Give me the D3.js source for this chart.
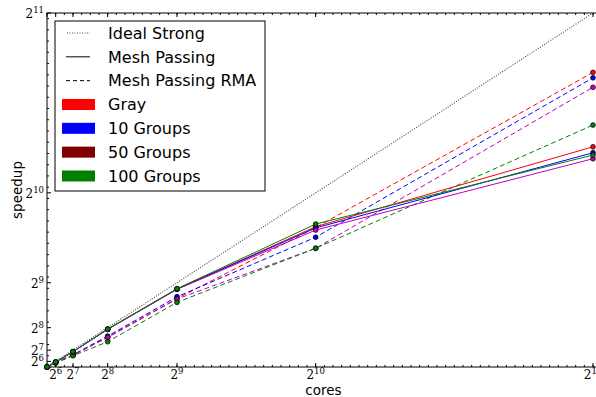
<!DOCTYPE html>
<html>
<head>
<meta charset="utf-8">
<script src="https://cdn.jsdelivr.net/npm/d3@7"></script>
<style>
  body { margin: 0; background: #fff; }
  svg { display: block; }
  .tl { font-family: "DejaVu Serif", "Liberation Serif", serif; font-size: 12px; }
  .lab { font-family: "DejaVu Sans", sans-serif; font-size: 13.5px; }
  .leg { font-family: "DejaVu Sans", sans-serif; font-size: 16px; }
</style>
</head>
<body>
<div id="chart"></div>
<script>
// cores (x) and speedup values
let cores = [32, 64, 128, 256, 512, 1024, 2048]
let ideal = [32, 64, 128, 256, 512, 1024, 2048]

let grayMesh = [32, 60, 119, 247, 476, 831, 1286]
let g10Mesh = [32, 60, 119, 247, 476, 824, 1252]
let g50Mesh = [32, 60, 119, 246, 474, 812, 1218]
let g100Mesh = [32, 60, 120, 248, 478, 846, 1239]

let grayRMA = [32, 56, 100, 202, 422, 826, 1710]
let g10RMA = [32, 57, 102, 208, 432, 771, 1679]
let g50RMA = [32, 56, 100, 200, 419, 708, 1625]
let g100RMA = [32, 55, 96, 176, 400, 708, 1410]

let xTicks = [64, 128, 256, 512, 1024, 2048]
let yTicks = [64, 128, 256, 512, 1024, 2048]

let legendNames = ["Ideal Strong", "Mesh Passing", "Mesh Passing RMA", "Gray", "10 Groups", "50 Groups", "100 Groups"]
let legendColors = ["#ff0000", "#0000ff", "#800000", "#008000"]

let width = 596
let height = 397
let plotL = 47, plotR = 600, plotT = 13, plotB = 367

var svg = d3.select("#chart")
    .append("svg")
    .attr("width", width)
    .attr("height", height)

var xScale = d3.scaleLinear().domain([32, 2048]).range([plotL, 593])
var yScale = d3.scaleLinear().domain([32, 2048]).range([plotB, plotT])

// frame
svg.append("rect")
    .attr("x", plotL).attr("y", plotT)
    .attr("width", plotR - plotL).attr("height", plotB - plotT)
    .attr("fill", "none").attr("stroke", "#000").attr("stroke-width", 1)

// ticks pointing inward, on all sides
let xMinor = d3.range(32, 2049, 32)
let yMinor = d3.range(32, 2049, 64)

function tickSet(vals, len, isX){
    vals.forEach(function(v){
        if(isX){
            let x = xScale(v)
            svg.append("line").attr("x1", x).attr("x2", x).attr("y1", plotB).attr("y2", plotB - len).attr("stroke", "#000")
            svg.append("line").attr("x1", x).attr("x2", x).attr("y1", plotT).attr("y2", plotT + len).attr("stroke", "#000")
        } else {
            let y = yScale(v)
            svg.append("line").attr("y1", y).attr("y2", y).attr("x1", plotL).attr("x2", plotL + len).attr("stroke", "#000")
            svg.append("line").attr("y1", y).attr("y2", y).attr("x1", plotR).attr("x2", plotR - len).attr("stroke", "#000")
        }
    })
}
tickSet(xMinor, 2, true)
tickSet(yMinor, 2, false)
tickSet(xTicks.concat([32]), 4, true)
tickSet(yTicks.concat([32]), 4, false)

function powLabel(sel, v){
    let e = Math.round(Math.log2(v))
    sel.append("tspan").text("2")
    sel.append("tspan").attr("font-size", "8.5px").attr("dy", "-5").text(e)
}

xTicks.forEach(function(v){
    let t = svg.append("text").attr("class", "tl")
        .attr("x", xScale(v)).attr("y", 379)
        .attr("text-anchor", "middle")
    powLabel(t, v)
})

yTicks.forEach(function(v){
    let t = svg.append("text").attr("class", "tl")
        .attr("x", 44).attr("y", yScale(v) + 5)
        .attr("text-anchor", "end")
    powLabel(t, v)
})

svg.append("text").attr("class", "lab")
    .attr("x", (plotL + plotR) / 2).attr("y", 395)
    .attr("text-anchor", "middle").text("cores")

svg.append("text").attr("class", "lab")
    .attr("transform", `translate(22, ${(plotT + plotB) / 2}) rotate(-90)`)
    .attr("text-anchor", "middle").text("speedup")

var plot = svg.append("g")

let line = d3.line()
    .x(function(d){ return xScale(d[0]) })
    .y(function(d){ return yScale(d[1]) })

function zipXY(vals){
    return cores.map(function(c, i){ return [c, vals[i]] })
}

plot.append("path")
    .attr("d", line(zipXY(ideal)))
    .attr("fill", "none").attr("stroke", "#555")
    .attr("stroke-width", 1.2).attr("stroke-dasharray", "1,1.5")

let series = [
    {vals: grayRMA, color: "#ff0000", dash: "5,3"},
    {vals: g10RMA, color: "#0000ff", dash: "5,3"},
    {vals: g50RMA, color: "#bf00bf", dash: "5,3"},
    {vals: g100RMA, color: "#008000", dash: "5,3"},
    {vals: grayMesh, color: "#ff0000", dash: null},
    {vals: g10Mesh, color: "#0000ff", dash: null},
    {vals: g50Mesh, color: "#bf00bf", dash: null},
    {vals: g100Mesh, color: "#008000", dash: null}
]

series.forEach(function(s){
    plot.append("path")
        .attr("d", line(zipXY(s.vals)))
        .attr("fill", "none").attr("stroke", s.color)
        .attr("stroke-width", 1)
        .attr("stroke-dasharray", s.dash)
    plot.selectAll(null).data(zipXY(s.vals)).enter()
        .append("circle")
        .attr("cx", function(d){ return xScale(d[0]) })
        .attr("cy", function(d){ return yScale(d[1]) })
        .attr("r", 2.4)
        .attr("fill", s.color).attr("stroke", "#000").attr("stroke-width", 0.7)
})

// legend
var legend = svg.append("g")
legend.append("rect")
    .attr("x", 55).attr("y", 21).attr("width", 210).attr("height", 170)
    .attr("fill", "#fff").attr("stroke", "#000").attr("stroke-width", 1)

legendNames.forEach(function(name, i){
    let cy = 33 + i * 23.83
    if(i < 3){
        legend.append("line")
            .attr("x1", i == 0 ? 67 : 66).attr("x2", 90).attr("y1", cy).attr("y2", cy)
            .attr("stroke", i == 0 ? "#555" : "#000")
            .attr("stroke-width", i == 0 ? 1.2 : 1)
            .attr("stroke-dasharray", i == 0 ? "1,1.5" : (i == 2 ? "4,3" : null))
    } else {
        legend.append("rect")
            .attr("x", 62).attr("y", cy - 5.5).attr("width", 33).attr("height", 11)
            .attr("fill", legendColors[i - 3])
    }
    legend.append("text").attr("class", "leg")
        .attr("x", 108).attr("y", cy).attr("dy", "0.36em")
        .text(name)
})
</script>
</body>
</html>
